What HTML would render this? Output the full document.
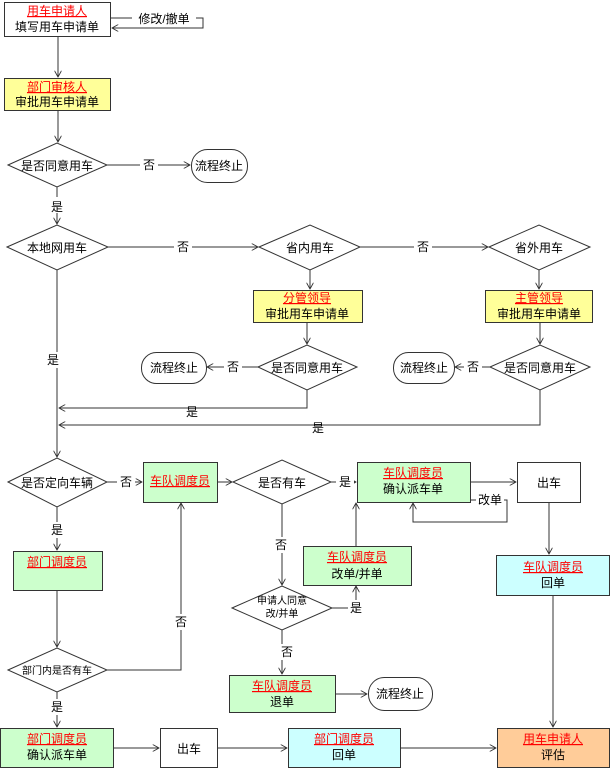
<!DOCTYPE html>
<html><head><meta charset="utf-8"><style>
body{margin:0;background:#fff}
svg{display:block;font-family:"Liberation Sans","Noto Sans CJK SC",sans-serif;font-size:12px}
.r{fill:#f00;text-decoration:underline}
</style></head><body>
<svg width="611" height="768" viewBox="0 0 611 768" xmlns="http://www.w3.org/2000/svg">
<defs><marker id="a" viewBox="0 0 10 10" refX="9" refY="5" markerWidth="7" markerHeight="7" orient="auto"><path d="M0,0 L9,5 L0,10" fill="none" stroke="#333" stroke-width="1.3"/></marker></defs>
<g stroke="#333" stroke-width="1" fill="none">
<!-- boxes -->
<rect x="4.5" y="2.5" width="106" height="34" fill="#fff"/>
<rect x="4.5" y="78.5" width="106" height="32" fill="#ffff99"/>
<rect x="253.5" y="290.5" width="109" height="32" fill="#ffff99"/>
<rect x="485.5" y="290.5" width="107" height="32" fill="#ffff99"/>
<rect x="143.5" y="462.5" width="74" height="40" fill="#ccffcc"/>
<rect x="357.5" y="462.5" width="113" height="40" fill="#ccffcc"/>
<rect x="517.5" y="462.5" width="63" height="40" fill="#fff"/>
<rect x="496.5" y="555.5" width="113" height="40" fill="#ccffff"/>
<rect x="303.5" y="546.5" width="108" height="39" fill="#ccffcc"/>
<rect x="13.5" y="551.5" width="89" height="39" fill="#ccffcc"/>
<rect x="229.5" y="675.5" width="106" height="37" fill="#ccffcc"/>
<rect x="0.5" y="728.5" width="113" height="39" fill="#ccffcc"/>
<rect x="160.5" y="728.5" width="57" height="39" fill="#fff"/>
<rect x="288.5" y="728.5" width="112" height="39" fill="#ccffff"/>
<rect x="497.5" y="728.5" width="112" height="39" fill="#ffcc99"/>
<!-- terminators -->
<rect x="191.5" y="149.5" width="56" height="33" rx="16" fill="#fff"/>
<rect x="141.5" y="352.5" width="65" height="31" rx="15" fill="#fff"/>
<rect x="393.5" y="352.5" width="61" height="31" rx="15" fill="#fff"/>
<rect x="368.5" y="677.5" width="64" height="33" rx="16" fill="#fff"/>
<!-- diamonds -->
<path d="M8,165 L57,143 L107,165 L57,187Z" fill="#fff"/>
<path d="M7,247 L57,225 L108,247 L57,270Z" fill="#fff"/>
<path d="M259,247 L310,225 L360,247 L310,270Z" fill="#fff"/>
<path d="M489,247 L539,225 L590,247 L539,270Z" fill="#fff"/>
<path d="M258,367 L307,345 L357,367 L307,390Z" fill="#fff"/>
<path d="M490,367 L540,345 L590,367 L540,390Z" fill="#fff"/>
<path d="M8,482 L57,458 L107,482 L57,507Z" fill="#fff"/>
<path d="M233,482 L282,460 L331,482 L282,504Z" fill="#fff"/>
<path d="M232,608 L282,586 L332,608 L282,630Z" fill="#fff"/>
<path d="M8,670 L57,648 L107,670 L57,692Z" fill="#fff"/>
<!-- connectors -->
<path d="M110,18 H203 V28 H112" marker-end="url(#a)"/>
<path d="M58,36 V77" marker-end="url(#a)"/>
<path d="M58,110 V142" marker-end="url(#a)"/>
<path d="M107,165 H190" marker-end="url(#a)"/>
<path d="M57,187 V224" marker-end="url(#a)"/>
<path d="M108,247 H258" marker-end="url(#a)"/>
<path d="M360,247 H488" marker-end="url(#a)"/>
<path d="M310,270 V289" marker-end="url(#a)"/>
<path d="M539,270 V289" marker-end="url(#a)"/>
<path d="M307,322 V344" marker-end="url(#a)"/>
<path d="M540,322 V344" marker-end="url(#a)"/>
<path d="M258,367 H207" marker-end="url(#a)"/>
<path d="M490,367 H455" marker-end="url(#a)"/>
<path d="M307,390 V408 H59" marker-end="url(#a)"/>
<path d="M540,390 V425 H59" marker-end="url(#a)"/>
<path d="M57,270 V457" marker-end="url(#a)"/>
<path d="M107,482 H142" marker-end="url(#a)"/>
<path d="M218,482 H232" marker-end="url(#a)"/>
<path d="M331,482 H356" marker-end="url(#a)"/>
<path d="M471,482 H516" marker-end="url(#a)"/>
<path d="M471,500 H507 V522 H413 V503" marker-end="url(#a)"/>
<path d="M549,503 V554" marker-end="url(#a)"/>
<path d="M553,596 V727" marker-end="url(#a)"/>
<path d="M282,504 V585" marker-end="url(#a)"/>
<path d="M332,608 H356 V586" marker-end="url(#a)"/>
<path d="M356,546 V503" marker-end="url(#a)"/>
<path d="M282,630 V674" marker-end="url(#a)"/>
<path d="M336,694 H367" marker-end="url(#a)"/>
<path d="M57,507 V550" marker-end="url(#a)"/>
<path d="M57,591 V647" marker-end="url(#a)"/>
<path d="M107,670 H181 V503" marker-end="url(#a)"/>
<path d="M57,692 V727" marker-end="url(#a)"/>
<path d="M114,748 H159" marker-end="url(#a)"/>
<path d="M218,748 H287" marker-end="url(#a)"/>
<path d="M401,748 H496" marker-end="url(#a)"/>
</g>
<g text-anchor="middle" fill="#000">
<!-- label backgrounds -->
<g fill="#fff">
<rect x="132" y="10" width="64" height="16"/><rect x="140" y="157" width="18" height="16"/>
<rect x="174" y="239" width="18" height="16"/><rect x="414" y="239" width="18" height="16"/>
<rect x="44" y="352" width="18" height="16"/><rect x="224" y="359" width="18" height="16"/>
<rect x="464" y="359" width="18" height="16"/><rect x="117" y="474" width="18" height="16"/>
<rect x="336" y="474" width="18" height="16"/><rect x="476" y="492" width="28" height="16"/>
<rect x="272" y="537" width="18" height="16"/><rect x="348" y="600" width="16" height="16"/>
<rect x="278" y="644" width="18" height="16"/><rect x="172" y="614" width="18" height="16"/>
<rect x="48" y="522" width="18" height="16"/><rect x="48" y="699" width="18" height="16"/>
<rect x="48" y="197" width="18" height="16"/>
</g>
<text x="164" y="23">修改/撤单</text>
<text x="57" y="15" class="r">用车申请人</text><text x="57" y="31">填写用车申请单</text>
<text x="57" y="91" class="r">部门审核人</text><text x="57" y="106">审批用车申请单</text>
<text x="57" y="170">是否同意用车</text><text x="149" y="169">否</text>
<text x="219" y="170">流程终止</text>
<text x="57" y="211">是</text>
<text x="57" y="252">本地网用车</text><text x="183" y="251">否</text>
<text x="310" y="252">省内用车</text><text x="423" y="251">否</text>
<text x="539" y="252">省外用车</text>
<text x="307" y="302" class="r">分管领导</text><text x="307" y="318">审批用车申请单</text>
<text x="539" y="302" class="r">主管领导</text><text x="539" y="318">审批用车申请单</text>
<text x="307" y="372">是否同意用车</text><text x="540" y="372">是否同意用车</text>
<text x="233" y="371">否</text><text x="473" y="371">否</text>
<text x="174" y="372">流程终止</text><text x="424" y="372">流程终止</text>
<text x="53" y="364">是</text>
<text x="192" y="416">是</text><text x="318" y="432">是</text>
<text x="57" y="487">是否定向车辆</text><text x="126" y="486">否</text>
<text x="180" y="485" class="r">车队调度员</text>
<text x="282" y="487">是否有车</text><text x="345" y="486">是</text>
<text x="413" y="477" class="r">车队调度员</text><text x="413" y="493">确认派车单</text>
<text x="549" y="487">出车</text>
<text x="490" y="504">改单</text>
<text x="553" y="571" class="r">车队调度员</text><text x="553" y="587">回单</text>
<text x="281" y="549">否</text>
<text x="357" y="561" class="r">车队调度员</text><text x="357" y="578">改单/并单</text>
<text x="282" y="604" font-size="10">申请人同意</text><text x="282" y="617" font-size="10">改/并单</text>
<text x="356" y="612">是</text>
<text x="287" y="656">否</text>
<text x="282" y="690" class="r">车队调度员</text><text x="282" y="706">退单</text>
<text x="400" y="698">流程终止</text>
<text x="57" y="534">是</text>
<text x="57" y="566" class="r">部门调度员</text>
<text x="57" y="674" font-size="10">部门内是否有车</text>
<text x="181" y="626">否</text>
<text x="57" y="711">是</text>
<text x="57" y="743" class="r">部门调度员</text><text x="57" y="759">确认派车单</text>
<text x="189" y="753">出车</text>
<text x="344" y="743" class="r">部门调度员</text><text x="344" y="759">回单</text>
<text x="553" y="743" class="r">用车申请人</text><text x="553" y="759">评估</text>
</g>
</svg>
</body></html>
